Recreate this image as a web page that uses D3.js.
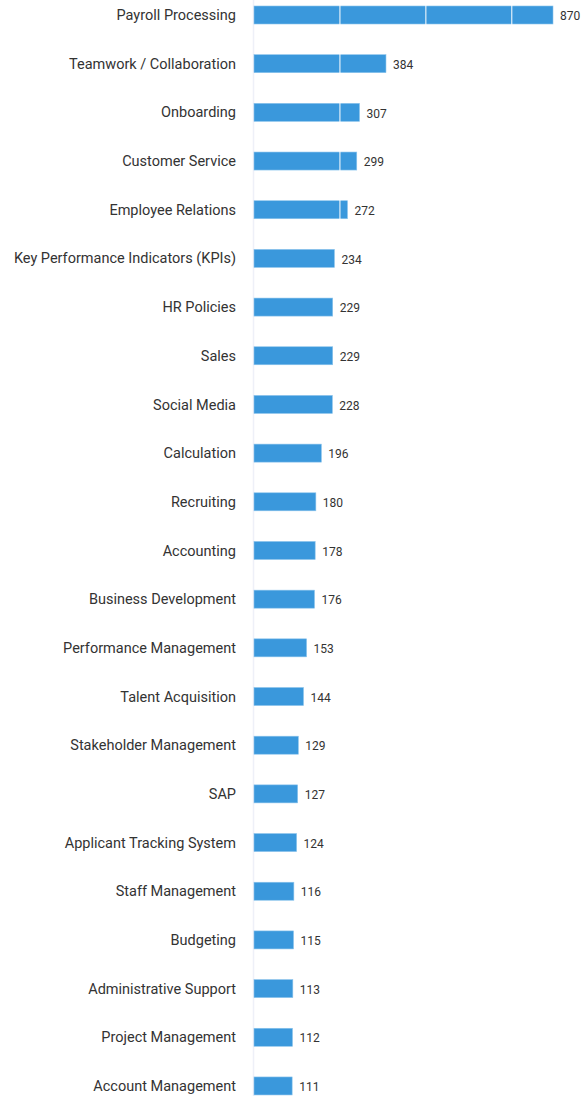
<!DOCTYPE html>
<html>
<head>
<meta charset="utf-8">
<script src="https://cdn.jsdelivr.net/npm/d3@7"></script>
<style>
  body { margin: 0; background: #fff; }
  svg { display: block; font-family: Roboto, sans-serif; }
  .label { font-size: 14.5px; fill: #333; }
  .value { font-size: 12px; fill: #333; }
</style>
</head>
<body>
<svg id="chart" width="586" height="1096"></svg>
<script>
var skills = ["Payroll Processing", "Teamwork / Collaboration", "Onboarding", "Customer Service",
  "Employee Relations", "Key Performance Indicators (KPIs)", "HR Policies", "Sales", "Social Media",
  "Calculation", "Recruiting", "Accounting", "Business Development", "Performance Management",
  "Talent Acquisition", "Stakeholder Management", "SAP", "Applicant Tracking System",
  "Staff Management", "Budgeting", "Administrative Support", "Project Management", "Account Management"];
var counts = [870, 384, 307, 299, 272, 234, 229, 229, 228, 196, 180, 178, 176, 153, 144, 129, 127,
  124, 116, 115, 113, 112, 111];
var gridTicks = [250, 500, 750];

var svg = d3.select('#chart');

var x = d3.scaleLinear()
  .domain([0, 870])
  .range([254, 553]);

var y = d3.scaleBand()
  .domain(skills)
  .range([-9.34, 1110.3])
  .paddingInner(0.63)
  .paddingOuter(0.315);

// faint axis line
svg.append('line')
  .attr('x1', 253.5).attr('x2', 253.5)
  .attr('y1', 0).attr('y2', 1096)
  .style('stroke', '#eef0f8')
  .style('stroke-width', 1.5);

var bars = svg.append('g').selectAll('rect')
  .data(skills)
  .enter()
  .append('rect')
  .attr('x', x(0))
  .attr('y', d => y(d))
  .attr('width', (d, i) => x(counts[i]) - x(0))
  .attr('height', y.bandwidth())
  .style('fill', '#3a98dc')
  .style('stroke', '#8cc4ec')
  .style('stroke-width', 0.6);

// white grid lines over the bars, under the text
svg.append('g').selectAll('line.grid')
  .data(gridTicks)
  .enter()
  .append('line')
  .classed('grid', true)
  .attr('x1', d => x(d)).attr('x2', d => x(d))
  .attr('y1', 0).attr('y2', 1096)
  .style('stroke', '#fff')
  .style('stroke-width', 1.2)
  .style('opacity', 0.85);

var rows = svg.append('g').selectAll('g.row')
  .data(skills)
  .enter()
  .append('g')
  .classed('row', true);

rows.append('text')
  .attr('class', 'label')
  .attr('x', 236)
  .attr('y', d => y(d) + y.bandwidth() / 2)
  .attr('dy', '0.35em')
  .attr('text-anchor', 'end')
  .text(d => d);

rows.append('text')
  .attr('class', 'value')
  .attr('x', (d, i) => x(counts[i]) + 7)
  .attr('y', d => y(d) + y.bandwidth() / 2 + 1)
  .attr('dy', '0.35em')
  .text((d, i) => counts[i]);
</script>
</body>
</html>
